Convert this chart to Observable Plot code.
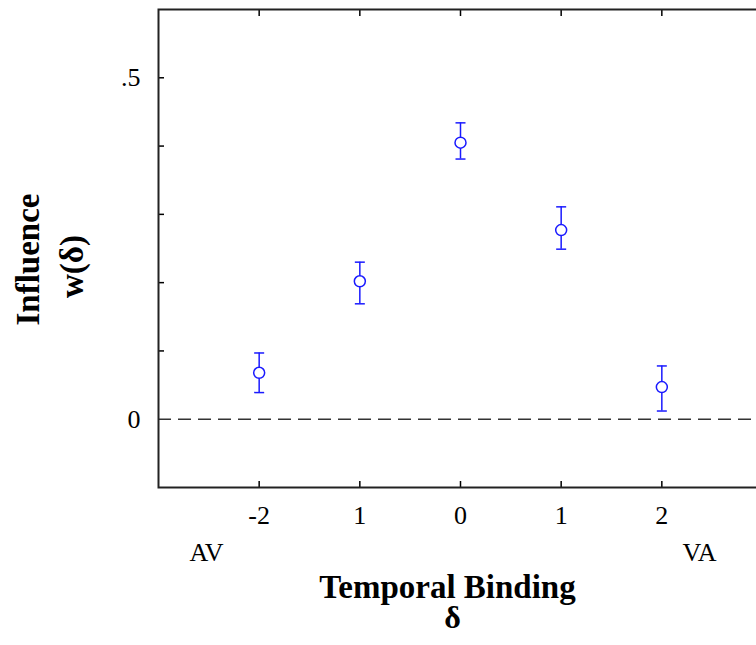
<!DOCTYPE html>
<html>
<head>
<meta charset="utf-8">
<script src="https://cdn.jsdelivr.net/npm/d3@7"></script>
<script src="https://cdn.jsdelivr.net/npm/@observablehq/plot@0.6"></script>
<style>
  html, body { margin: 0; padding: 0; background: #fff; overflow: hidden; }
  #chart svg { overflow: hidden; display: block; }
</style>
</head>
<body>
<div id="chart"></div>
<script>
// Data
const delta = [-2, -1, 0, 1, 2];
const influence = [0.068, 0.202, 0.405, 0.277, 0.047];
const errLow = [0.039, 0.169, 0.381, 0.249, 0.012];
const errHigh = [0.097, 0.230, 0.434, 0.311, 0.078];
const xTickLabels = ["-2", "1", "0", "1", "2"];
const yMinorTicks = [0.1, 0.2, 0.3, 0.4, 0.5];
const yLabelTicks = [0, 0.5];
const yLabelText = ["0", ".5"];

const rows = delta.map((d, i) => ({ d, w: influence[i], lo: errLow[i], hi: errHigh[i] }));

const capSymbol = {
  draw(context) {
    context.moveTo(-5, 0);
    context.lineTo(5, 0);
  }
};

const blue = "#1a1aff";
const font = "Liberation Serif";

const chart = Plot.plot({
  width: 756,
  height: 645,
  marginLeft: 158,
  marginRight: -6,
  marginTop: 9,
  marginBottom: 158,
  style: { fontFamily: font, fontSize: "26px", color: "#000", background: "#fff", overflow: "hidden" },
  x: { domain: [-3, 3], label: null },
  y: { domain: [-0.1, 0.6], label: null },
  marks: [
    Plot.ruleY([0], { stroke: "#333", strokeWidth: 1.5, strokeDasharray: "13,7" }),
    // inward ticks
    Plot.axisY({ ticks: yMinorTicks, tickSize: -6, tickFormat: () => "", label: null, stroke: "#000", strokeWidth: 1.5 }),
    Plot.axisX({ ticks: delta, tickSize: -6, tickFormat: () => "", label: null, stroke: "#000", strokeWidth: 1.5, anchor: "bottom" }),
    Plot.axisX({ ticks: delta, tickSize: -6, tickFormat: () => "", label: null, stroke: "#000", strokeWidth: 1.5, anchor: "top" }),
    // y tick labels
    Plot.axisY({ ticks: yLabelTicks, tickSize: 0, tickPadding: 18, fontSize: 26, label: null,
      tickFormat: (v) => yLabelText[yLabelTicks.indexOf(v)], fill: "#000" }),
    // x tick labels
    Plot.text(delta, { x: (d) => d, text: (d, i) => xTickLabels[i], frameAnchor: "bottom",
      dy: 36, lineAnchor: "bottom", fontSize: 26, fill: "#000" }),
    Plot.text(["AV"], { frameAnchor: "bottom-left", dx: 48, dy: 73, textAnchor: "middle",
      lineAnchor: "bottom", fontSize: 26, fill: "#000" }),
    Plot.text(["VA"], { frameAnchor: "bottom-right", dx: -63, dy: 73, textAnchor: "middle",
      lineAnchor: "bottom", fontSize: 26, fill: "#000" }),
    Plot.text(["Temporal Binding"], { frameAnchor: "bottom", dx: -13, dy: 110, lineAnchor: "bottom",
      textAnchor: "middle", fontSize: 33, fontWeight: "bold", fill: "#000" }),
    Plot.text(["δ"], { frameAnchor: "bottom", dx: -8, dy: 140, lineAnchor: "bottom",
      textAnchor: "middle", fontSize: 32, fontWeight: "bold", fill: "#000" }),
    Plot.text(["Influence"], { frameAnchor: "left", dx: -120, dy: 11, rotate: -90, lineAnchor: "bottom",
      textAnchor: "middle", fontSize: 33, fontWeight: "bold", fill: "#000" }),
    Plot.text(["w(δ)"], { frameAnchor: "left", dx: -76, dy: 18, rotate: -90, lineAnchor: "bottom",
      textAnchor: "middle", fontSize: 33, fontWeight: "bold", fill: "#000" }),
    // error bars
    Plot.ruleX(rows, { x: "d", y1: "lo", y2: "hi", stroke: blue, strokeWidth: 1.5 }),
    Plot.dot(rows, { x: "d", y: "lo", symbol: capSymbol, stroke: blue, strokeWidth: 1.5, fill: "none" }),
    Plot.dot(rows, { x: "d", y: "hi", symbol: capSymbol, stroke: blue, strokeWidth: 1.5, fill: "none" }),
    Plot.dot(rows, { x: "d", y: "w", r: 5.5, stroke: blue, strokeWidth: 1.5, fill: "#fff" }),
    Plot.frame({ stroke: "#222", strokeWidth: 2 })
  ]
});

document.getElementById("chart").appendChild(chart);
</script>
</body>
</html>
